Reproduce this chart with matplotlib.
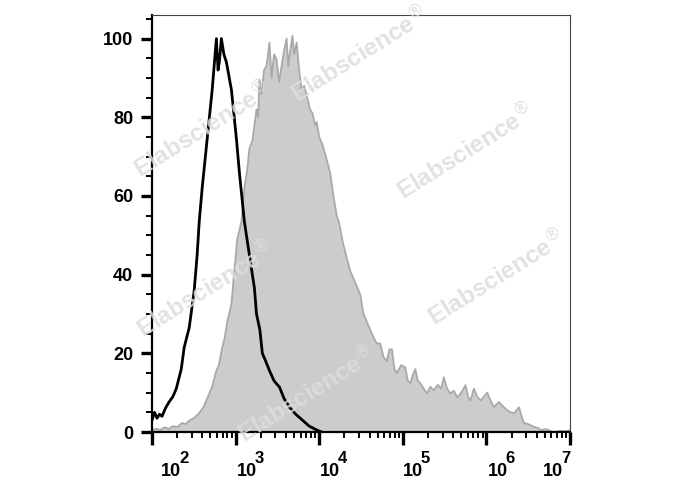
import matplotlib
matplotlib.use("Agg")
import matplotlib.pyplot as plt
import numpy as np
from matplotlib.ticker import LogLocator, FixedLocator, MultipleLocator, NullFormatter
from matplotlib.transforms import offset_copy

# ---- data (log10 fluorescence, % of max) ----
black_logx = [2.00, 2.03, 2.06, 2.09, 2.12, 2.16, 2.20, 2.25, 2.29, 2.35, 2.385, 2.445, 2.505,
              2.54, 2.565, 2.60, 2.66, 2.72, 2.77, 2.79, 2.805, 2.83, 2.86, 2.89, 2.95, 3.01,
              3.045, 3.105, 3.165, 3.225, 3.25, 3.29, 3.32, 3.36, 3.405, 3.46, 3.525, 3.58,
              3.645, 3.72, 3.80, 3.88, 3.97, 4.03]
black_y = [3.0, 5.0, 3.5, 4.5, 4.0, 6.0, 7.5, 9.0, 11.0, 16.0, 21.5, 26.5, 36.0,
           45.0, 53.5, 62.0, 74.5, 87.0, 100.0, 92.0, 94.0, 100.0, 96.0, 94.0, 87.0, 74.5,
           66.0, 53.5, 45.0, 36.6, 30.0, 26.0, 20.0, 18.0, 15.6, 13.0, 11.4, 8.5,
           6.3, 4.5, 3.0, 1.5, 0.5, 0.0]

gray_logx = [2.00, 2.05, 2.10, 2.15, 2.20, 2.25, 2.30, 2.36, 2.40, 2.45, 2.50, 2.565, 2.62,
             2.685, 2.72, 2.77, 2.80, 2.84, 2.87, 2.90, 2.95, 2.985, 3.02, 3.07, 3.105,
             3.135, 3.165, 3.20, 3.25, 3.27, 3.285, 3.31, 3.34, 3.37, 3.405, 3.43, 3.46,
             3.49, 3.52, 3.55, 3.58, 3.61, 3.63, 3.645, 3.68, 3.70, 3.73, 3.76, 3.79, 3.82,
             3.85, 3.89, 3.92, 3.95, 3.97, 4.00, 4.04, 4.08, 4.13, 4.17, 4.21, 4.24, 4.28,
             4.32, 4.37, 4.41, 4.45, 4.49, 4.53, 4.57, 4.61, 4.65, 4.69, 4.73, 4.77, 4.81,
             4.84, 4.87, 4.90, 4.93, 4.98, 5.03, 5.06, 5.09, 5.12, 5.15, 5.18, 5.21, 5.25,
             5.29, 5.33, 5.37, 5.42, 5.46, 5.49, 5.53, 5.57, 5.61, 5.65, 5.70, 5.75, 5.78,
             5.81, 5.85, 5.89, 5.93, 5.97, 6.01, 6.05, 6.09, 6.12, 6.15, 6.20, 6.25, 6.29,
             6.33, 6.36, 6.39, 6.42, 6.45, 6.50, 6.57, 6.62, 6.65, 6.70, 6.74, 6.81, 6.88,
             6.95, 7.00]
gray_y = [0.5, 0.8, 0.5, 1.2, 0.8, 1.5, 1.2, 2.3, 2.0, 3.0, 3.5, 4.8, 6.5,
          9.8, 11.5, 15.6, 17.0, 21.5, 24.0, 28.0, 32.5, 41.0, 49.0, 53.5, 62.0,
          66.0, 72.0, 74.0, 82.0, 80.0, 89.6, 86.0, 92.0, 93.0, 99.0, 90.0, 96.0,
          94.7, 89.0, 93.0, 97.0, 100.0, 93.0, 95.7, 100.7, 96.0, 99.0, 92.0, 87.0, 88.0,
          85.6, 82.0, 81.0, 78.0, 78.8, 75.0, 73.0, 70.0, 66.0, 60.0, 55.0, 53.0, 48.5,
          45.0, 41.0, 39.0, 37.0, 35.0, 30.0, 28.0, 26.0, 24.0, 22.5, 22.5, 19.0, 18.0,
          21.0, 21.0, 16.0, 15.0, 17.0, 16.4, 13.0, 12.4, 14.5, 16.0, 13.0, 12.4, 11.0,
          9.8, 11.5, 10.6, 12.0, 11.0, 13.9, 11.0, 9.8, 10.5, 8.8, 10.0, 11.9, 9.0,
          8.0, 11.0, 9.0, 8.0, 9.0, 10.0, 8.0, 6.3, 7.0, 7.6, 6.5, 5.5, 5.0,
          4.8, 5.5, 6.3, 4.0, 2.3, 2.0, 1.3, 1.0, 0.5, 0.7, 0.5, 0.0, 0.3,
          0.2, 0.5]

x_ticks = [1e2, 1e3, 1e4, 1e5, 1e6, 1e7]
x_exponents = ["2", "3", "4", "5", "6", "7"]
y_ticks = [0, 20, 40, 60, 80, 100]
watermark_text = "Elabscience"

# ---- layout / style (not data) ----
label_dx = [9, 1, 1, 0, 1, -27]          # pixel offsets of "10" from the tick
watermark_pos = [(0.122, 0.724), (0.496, 0.905), (0.751, 0.671),
                 (0.129, 0.341), (0.825, 0.369), (0.371, 0.088)]
FONT = "Liberation Sans"

fig = plt.figure(figsize=(6.88, 4.90), dpi=100)
ax = fig.add_axes([152 / 688, 1 - 432 / 490, (570 - 152) / 688, (432 - 15) / 490])

gx = 10 ** np.array(gray_logx)
ax.fill_between(gx, gray_y, 0, facecolor="#cccccc", edgecolor="none", zorder=1)
ax.plot(gx, gray_y, color="#a9a9a9", lw=1.3, zorder=2)
ax.plot(10 ** np.array(black_logx), black_y, color="black", lw=2.0, zorder=4)

ax.set_xscale("log")
ax.set_xlim(1e2, 1e7)
ax.set_ylim(0, 106)

ax.xaxis.set_major_locator(FixedLocator(x_ticks))
ax.xaxis.set_major_formatter(NullFormatter())
ax.xaxis.set_minor_locator(LogLocator(base=10, subs=np.arange(2, 10), numticks=20))
ax.xaxis.set_minor_formatter(NullFormatter())
ax.yaxis.set_major_locator(FixedLocator(y_ticks))
ax.yaxis.set_minor_locator(MultipleLocator(5))

for s in ["left", "bottom"]:
    ax.spines[s].set_linewidth(1.6)
for s in ["top", "right"]:
    ax.spines[s].set_linewidth(0.8)
    ax.spines[s].set_color("#444444")

ax.tick_params(axis="y", which="major", direction="out", length=8, width=2.4, pad=5.5)
ax.tick_params(axis="x", which="major", direction="out", length=9, width=2.4)
ax.tick_params(axis="both", which="minor", direction="out", length=4, width=1.4)
ax.set_yticklabels([str(v) for v in y_ticks], fontsize=13, fontweight="bold", family=FONT)

xtrans = ax.get_xaxis_transform()
for v, e, dx in zip(x_ticks, x_exponents, label_dx):
    t1 = offset_copy(xtrans, fig=fig, x=dx, y=-44, units="dots")
    ax.text(v, 0, "10", transform=t1, ha="left", va="baseline", fontsize=13,
            fontweight="bold", family=FONT, clip_on=False)
    t2 = offset_copy(xtrans, fig=fig, x=dx + 18, y=-31, units="dots")
    ax.text(v, 0, e, transform=t2, ha="left", va="baseline", fontsize=12,
            fontweight="bold", family=FONT, clip_on=False)

for (wx, wy) in watermark_pos:
    ax.text(wx, wy, watermark_text + r"$^{\circledR}$", transform=ax.transAxes, rotation=32,
            ha="center", va="center", fontsize=17.5, fontweight="bold", family=FONT,
            color="#dddddd", alpha=0.85, zorder=5)

fig.savefig("out.png", dpi=100)
